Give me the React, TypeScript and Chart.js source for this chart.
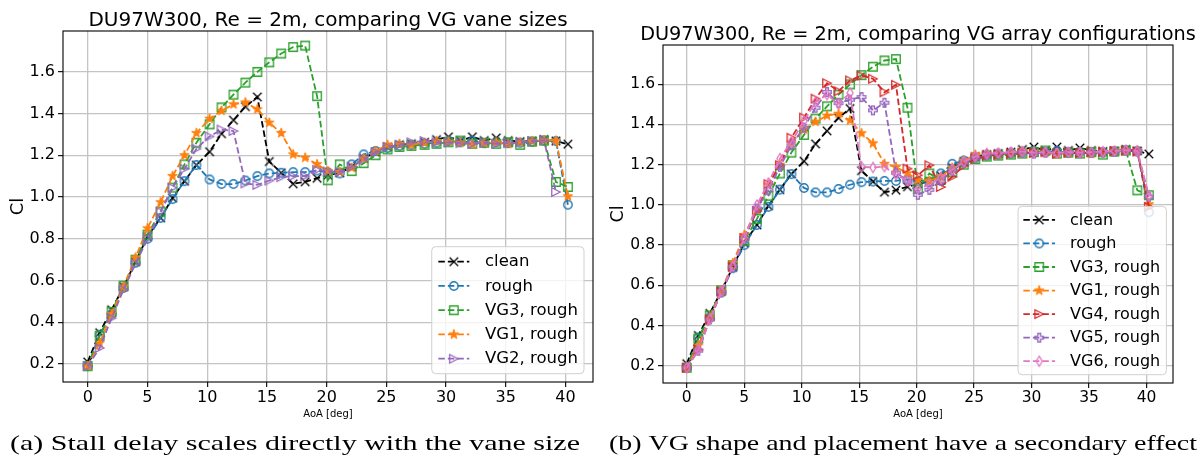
import React, { useEffect, useRef } from "react";
import { Chart, registerables } from "chart.js";

Chart.register(...registerables);

// ---------------- data ----------------
const AOA = [
  0, 1, 2, 3, 4, 5, 6.1, 7.1, 8.1, 9.1, 10.2, 11.2, 12.2, 13.2, 14.2, 15.2, 16.2, 17.2, 18.2, 19.2,
  20.1, 21.1, 22.1, 23.1, 24.1, 25.1, 26.1, 27.1, 28.2, 29.2, 30.2, 31.2, 32.2, 33.2, 34.2, 35.2,
  36.2, 37.2, 38.2, 39.2, 40.2,
];

const CLEAN = [
  0.21, 0.35, 0.46, 0.57, 0.69, 0.81, 0.9, 0.995, 1.076, 1.153, 1.217, 1.303, 1.368, 1.433, 1.479,
  1.17, 1.116, 1.063, 1.073, 1.09, 1.105, 1.115, 1.145, 1.185, 1.215, 1.24, 1.25, 1.255, 1.262,
  1.275, 1.288, 1.27, 1.288, 1.27, 1.283, 1.27, 1.265, 1.268, 1.275, 1.268, 1.253,
];

const ROUGH = [
  0.19, 0.34, 0.44, 0.565, 0.685, 0.8, 0.9, 0.99, 1.076, 1.153, 1.084, 1.062, 1.062, 1.079, 1.1,
  1.113, 1.116, 1.119, 1.119, 1.127, 1.118, 1.113, 1.156, 1.204, 1.22, 1.235, 1.245, 1.25, 1.255,
  1.26, 1.268, 1.262, 1.268, 1.258, 1.262, 1.258, 1.26, 1.265, 1.27, 1.268, 0.963,
];

const VG3_ROUGH = [
  0.19, 0.335, 0.45, 0.575, 0.7, 0.82, 0.93, 1.045, 1.156, 1.26, 1.348, 1.429, 1.49, 1.548, 1.599,
  1.645, 1.687, 1.718, 1.725, 1.483, 1.08, 1.156, 1.124, 1.162, 1.2, 1.228, 1.24, 1.245, 1.25,
  1.255, 1.262, 1.27, 1.255, 1.26, 1.255, 1.262, 1.25, 1.265, 1.27, 1.072, 1.048,
];

const VG1_ROUGH = [
  0.19, 0.3, 0.44, 0.57, 0.71, 0.85, 0.975, 1.1, 1.2, 1.306, 1.375, 1.413, 1.444, 1.453, 1.42,
  1.356, 1.306, 1.204, 1.188, 1.157, 1.124, 1.12, 1.14, 1.185, 1.22, 1.25, 1.255, 1.25, 1.26,
  1.268, 1.265, 1.26, 1.252, 1.258, 1.262, 1.255, 1.262, 1.268, 1.272, 1.27, 1.003,
];

const VG2_ROUGH = [
  0.19, 0.277, 0.42, 0.556, 0.68, 0.8, 0.93, 1.044, 1.135, 1.231, 1.29, 1.323, 1.316, 1.065, 1.058,
  1.079, 1.095, 1.1, 1.1, 1.13, 1.122, 1.12, 1.145, 1.18, 1.215, 1.24, 1.25, 1.262, 1.268, 1.262,
  1.262, 1.258, 1.255, 1.26, 1.255, 1.258, 1.262, 1.268, 1.272, 1.024, null,
];

const VG4_ROUGH = [
  0.19, 0.28, 0.43, 0.569, 0.693, 0.833, 0.97, 1.103, 1.197, 1.334, 1.434, 1.528, 1.605, 1.565,
  1.619, 1.643, 1.627, 1.56, 1.597, 1.18, 1.147, 1.197, 1.089, 1.14, 1.195, 1.23, 1.245, 1.25,
  1.255, 1.26, 1.258, 1.262, 1.255, 1.26, 1.258, 1.262, 1.265, 1.268, 1.27, 1.265, 0.99,
];

const VG5_ROUGH = [
  0.19, 0.275, 0.43, 0.565, 0.69, 0.83, 0.982, 1.073, 1.189, 1.296, 1.384, 1.483, 1.561, 1.506,
  1.523, 1.536, 1.47, 1.508, 1.16, 1.12, 1.05, 1.075, 1.12, 1.17, 1.21, 1.235, 1.25, 1.255, 1.26,
  1.262, 1.255, 1.26, 1.258, 1.262, 1.258, 1.26, 1.262, 1.265, 1.27, 1.265, 1.04,
];

const VG6_ROUGH = [
  0.19, 0.28, 0.43, 0.57, 0.695, 0.835, 0.999, 1.109, 1.23, 1.313, 1.417, 1.511, 1.548, 1.503,
  1.556, 1.189, 1.186, 1.19, 1.15, 1.12, 1.08, 1.1, 1.135, 1.175, 1.215, 1.24, 1.255, 1.258, 1.262,
  1.265, 1.26, 1.262, 1.258, 1.262, 1.26, 1.262, 1.265, 1.268, 1.272, 1.268, 1.045,
];

const X_TICKS = [0, 5, 10, 15, 20, 25, 30, 35, 40];
const Y_TICKS = [0.2, 0.4, 0.6, 0.8, 1.0, 1.2, 1.4, 1.6];
const X_MIN = -2.07;
const X_MAX = 42.3;
const Y_MIN = 0.114;
const Y_MAX = 1.795;

const TITLE_A = "DU97W300, Re = 2m, comparing VG vane sizes";
const TITLE_B = "DU97W300, Re = 2m, comparing VG array configurations";
const CAPTION_A = "(a) Stall delay scales directly with the vane size";
const CAPTION_B = "(b) VG shape and placement have a secondary effect";
const X_LABEL = "AoA [deg]";
const Y_LABEL = "Cl";

// ---------------- styles ----------------
type MarkerKind = "x" | "o" | "s" | "*" | ">" | "P" | "d";

interface Series {
  label: string;
  values: (number | null)[];
  color: string;
  marker: MarkerKind;
}

const S_CLEAN: Series = { label: "clean", values: CLEAN, color: "#000000", marker: "x" };
const S_ROUGH: Series = { label: "rough", values: ROUGH, color: "#1f77b4", marker: "o" };
const S_VG3: Series = { label: "VG3, rough", values: VG3_ROUGH, color: "#2ca02c", marker: "s" };
const S_VG1: Series = { label: "VG1, rough", values: VG1_ROUGH, color: "#ff7f0e", marker: "*" };
const S_VG2: Series = { label: "VG2, rough", values: VG2_ROUGH, color: "#9467bd", marker: ">" };
const S_VG4: Series = { label: "VG4, rough", values: VG4_ROUGH, color: "#d62728", marker: ">" };
const S_VG5: Series = { label: "VG5, rough", values: VG5_ROUGH, color: "#9467bd", marker: "P" };
const S_VG6: Series = { label: "VG6, rough", values: VG6_ROUGH, color: "#e377c2", marker: "d" };

const LINE_DASH = [6.5, 3];

const markerCache = new Map<string, HTMLCanvasElement>();
function markerCanvas(kind: MarkerKind, color: string): HTMLCanvasElement {
  const key = kind + color;
  const hit = markerCache.get(key);
  if (hit) return hit;
  const size = 14;
  const c = document.createElement("canvas");
  c.width = size;
  c.height = size;
  const g = c.getContext("2d")!;
  g.translate(size / 2, size / 2);
  g.strokeStyle = color;
  g.fillStyle = color;
  g.lineWidth = 1.3;
  const h = 4.25;
  g.beginPath();
  if (kind === "x") {
    g.moveTo(-h, -h);
    g.lineTo(h, h);
    g.moveTo(-h, h);
    g.lineTo(h, -h);
    g.stroke();
  } else if (kind === "o") {
    g.arc(0, 0, h, 0, Math.PI * 2);
    g.stroke();
  } else if (kind === "s") {
    g.rect(-h, -h, 2 * h, 2 * h);
    g.stroke();
  } else if (kind === "*") {
    const R = h * 1.2;
    for (let i = 0; i < 10; i++) {
      const r = i % 2 === 0 ? R : R * 0.381;
      const a = -Math.PI / 2 + (i * Math.PI) / 5;
      const px = r * Math.cos(a);
      const py = r * Math.sin(a);
      if (i === 0) g.moveTo(px, py);
      else g.lineTo(px, py);
    }
    g.closePath();
    g.fill();
    g.lineWidth = 1;
    g.stroke();
  } else if (kind === ">") {
    g.moveTo(h, 0);
    g.lineTo(-h, -h);
    g.lineTo(-h, h);
    g.closePath();
    g.stroke();
  } else if (kind === "P") {
    const a = h;
    const b = h / 3;
    const pts = [
      [-b, -a], [b, -a], [b, -b], [a, -b], [a, b], [b, b],
      [b, a], [-b, a], [-b, b], [-a, b], [-a, -b], [-b, -b],
    ];
    pts.forEach(([px, py], i) => (i === 0 ? g.moveTo(px, py) : g.lineTo(px, py)));
    g.closePath();
    g.stroke();
  } else if (kind === "d") {
    g.moveTo(0, -h * 1.2);
    g.lineTo(h * 0.72, 0);
    g.lineTo(0, h * 1.2);
    g.lineTo(-h * 0.72, 0);
    g.closePath();
    g.stroke();
  }
  markerCache.set(key, c);
  return c;
}

interface LegendGeom {
  fontSize: number;
  rowH: number;
  padV: number;
  handleX: number;
  handleLen: number;
  textX: number;
  padRight: number;
  marginRight: number;
  marginBottom: number;
}

interface PanelDef {
  left: number;
  width: number;
  padRight: number;
  padTop: number;
  yAxisW: number;
  xAxisH: number;
  tickFont: number;
  titleFont: number;
  ylabelFont: number;
  xlabelFont: number;
  title: string;
  caption: string;
  captionX0: number;
  captionX1: number;
  series: Series[];
  legend: LegendGeom;
}

const HEIGHT = 474;

const PANEL_A: PanelDef = {
  left: 0,
  width: 600,
  padRight: 7,
  padTop: 31,
  yAxisW: 63,
  xAxisH: 92,
  tickFont: 16,
  titleFont: 20,
  ylabelFont: 18,
  xlabelFont: 10,
  title: TITLE_A,
  caption: CAPTION_A,
  captionX0: 10,
  captionX1: 580,
  series: [S_CLEAN, S_ROUGH, S_VG3, S_VG1, S_VG2],
  legend: {
    fontSize: 16.5,
    rowH: 24.25,
    padV: 15,
    handleX: 6.6,
    handleLen: 31,
    textX: 53.3,
    padRight: 6,
    marginRight: 9,
    marginBottom: 8.3,
  },
};

const PANEL_B: PanelDef = {
  left: 600,
  width: 604,
  padRight: 31,
  padTop: 45,
  yAxisW: 63,
  xAxisH: 91,
  tickFont: 15.5,
  titleFont: 19.3,
  ylabelFont: 17.5,
  xlabelFont: 10,
  title: TITLE_B,
  caption: CAPTION_B,
  captionX0: 9,
  captionX1: 597,
  series: [S_CLEAN, S_ROUGH, S_VG3, S_VG1, S_VG4, S_VG5, S_VG6],
  legend: {
    fontSize: 16,
    rowH: 23.55,
    padV: 13.5,
    handleX: 5.3,
    handleLen: 31.7,
    textX: 52,
    padRight: 6.2,
    marginRight: 6.6,
    marginBottom: 8.3,
  },
};

const FONT = "'DejaVu Sans', sans-serif";

function drawLegend(chart: any, p: PanelDef) {
  const ctx: CanvasRenderingContext2D = chart.ctx;
  const L = p.legend;
  const ca = chart.chartArea;
  const n = p.series.length;
  ctx.save();
  ctx.font = `${L.fontSize}px ${FONT}`;
  const maxW = Math.max(...p.series.map((s) => ctx.measureText(s.label).width));
  const w = L.textX + maxW + L.padRight;
  const h = L.padV * 2 + (n - 1) * L.rowH;
  const x0 = ca.right - L.marginRight - w;
  const y0 = ca.bottom - L.marginBottom - h;
  ctx.beginPath();
  (ctx as any).roundRect(x0, y0, w, h, 4);
  ctx.fillStyle = "rgba(255,255,255,0.8)";
  ctx.fill();
  ctx.strokeStyle = "#d0d0d0";
  ctx.lineWidth = 1;
  ctx.stroke();
  p.series.forEach((s, i) => {
    const cy = y0 + L.padV + i * L.rowH;
    ctx.beginPath();
    ctx.setLineDash(LINE_DASH);
    ctx.strokeStyle = s.color;
    ctx.lineWidth = 1.8;
    ctx.moveTo(x0 + L.handleX, cy);
    ctx.lineTo(x0 + L.handleX + L.handleLen, cy);
    ctx.stroke();
    ctx.setLineDash([]);
    const m = markerCanvas(s.marker, s.color);
    ctx.drawImage(m, x0 + L.handleX + L.handleLen / 2 - m.width / 2, cy - m.height / 2);
    ctx.fillStyle = "#000";
    ctx.textAlign = "left";
    ctx.textBaseline = "middle";
    ctx.fillText(s.label, x0 + L.textX, cy + 0.5);
  });
  ctx.restore();
}

function makeDecor(p: PanelDef) {
  return {
    id: "decor",
    beforeDraw(chart: any) {
      const ctx = chart.ctx;
      ctx.save();
      ctx.fillStyle = "#ffffff";
      ctx.fillRect(0, 0, chart.width, chart.height);
      ctx.restore();
    },
    afterDatasetsDraw(chart: any) {
      const ctx: CanvasRenderingContext2D = chart.ctx;
      const ca = chart.chartArea;
      ctx.save();
      ctx.strokeStyle = "#000";
      ctx.lineWidth = 1.1;
      ctx.strokeRect(ca.left, ca.top, ca.right - ca.left, ca.bottom - ca.top);
      ctx.restore();
      drawLegend(chart, p);
    },
    afterDraw(chart: any) {
      const ctx: CanvasRenderingContext2D = chart.ctx;
      const ca = chart.chartArea;
      const cx = (ca.left + ca.right) / 2;
      const cy = (ca.top + ca.bottom) / 2;
      ctx.save();
      ctx.fillStyle = "#000";
      // title
      ctx.font = `${p.titleFont}px ${FONT}`;
      ctx.textAlign = "center";
      ctx.textBaseline = "alphabetic";
      ctx.fillText(p.title, cx, ca.top - 5);
      // y label
      ctx.save();
      ctx.translate(ca.left - 45, cy);
      ctx.rotate(-Math.PI / 2);
      ctx.font = `${p.ylabelFont}px ${FONT}`;
      ctx.textAlign = "center";
      ctx.textBaseline = "middle";
      ctx.fillText(Y_LABEL, 0, 0);
      ctx.restore();
      // x label
      ctx.font = `${p.xlabelFont}px ${FONT}`;
      ctx.textAlign = "center";
      ctx.textBaseline = "alphabetic";
      ctx.fillText(X_LABEL, cx, 417);
      // caption
      ctx.font = `22px 'Liberation Serif', 'DejaVu Serif', serif`;
      const tw = ctx.measureText(p.caption).width;
      const sx = (p.captionX1 - p.captionX0) / tw;
      ctx.translate(p.captionX0, 450);
      ctx.scale(sx, 1);
      ctx.textAlign = "left";
      ctx.fillText(p.caption, 0, 0);
      ctx.restore();
    },
  };
}

function buildConfig(p: PanelDef): any {
  const n = p.series.length;
  const datasets = p.series.map((s, i) => ({
    label: s.label,
    data: AOA.map((x, j) => ({ x, y: s.values[j] })).filter((pt) => pt.y !== null && pt.y !== undefined),
    borderColor: s.color,
    backgroundColor: s.color,
    borderWidth: 1.8,
    borderDash: LINE_DASH,
    pointStyle: markerCanvas(s.marker, s.color),
    pointRadius: 4,
    pointHoverRadius: 4,
    fill: false,
    tension: 0,
    order: n - i,
  }));
  const tickCommon = {
    color: "#000",
    font: { family: "'DejaVu Sans', sans-serif", size: p.tickFont },
    autoSkip: false,
    maxRotation: 0,
    minRotation: 0,
  };
  const gridCommon = {
    color: "#c4c4c4",
    lineWidth: 1.3,
    tickColor: "#000",
    tickLength: 5,
    tickWidth: 1.1,
    drawTicks: true,
  };
  return {
    type: "line",
    data: { datasets },
    options: {
      responsive: false,
      maintainAspectRatio: false,
      animation: false,
      devicePixelRatio: 1,
      events: [],
      layout: { padding: { left: 0, right: p.padRight, top: p.padTop, bottom: 0 } },
      plugins: {
        legend: { display: false },
        tooltip: { enabled: false },
        title: { display: false },
      },
      scales: {
        x: {
          type: "linear",
          min: X_MIN,
          max: X_MAX,
          afterBuildTicks: (sc: any) => {
            sc.ticks = X_TICKS.map((v) => ({ value: v }));
          },
          afterFit: (sc: any) => {
            sc.height = p.xAxisH;
          },
          ticks: { ...tickCommon, padding: 1, callback: (v: any) => String(v) },
          grid: gridCommon,
          border: { display: false },
        },
        y: {
          type: "linear",
          min: Y_MIN,
          max: Y_MAX,
          afterBuildTicks: (sc: any) => {
            sc.ticks = Y_TICKS.map((v) => ({ value: v }));
          },
          afterFit: (sc: any) => {
            sc.width = p.yAxisW;
          },
          ticks: { ...tickCommon, padding: 3, callback: (v: any) => Number(v).toFixed(1) },
          grid: gridCommon,
          border: { display: false },
        },
      },
    },
    plugins: [makeDecor(p)],
  };
}

function Panel({ def }: { def: PanelDef }) {
  const ref = useRef<HTMLCanvasElement>(null);
  useEffect(() => {
    const chart = new Chart(ref.current!, buildConfig(def));
    return () => chart.destroy();
  }, [def]);
  return (
    <canvas
      ref={ref}
      width={def.width}
      height={HEIGHT}
      style={{ position: "absolute", left: def.left, top: 0, width: def.width, height: HEIGHT }}
    />
  );
}

export default function App() {
  return (
    <div
      style={{
        position: "absolute",
        left: 0,
        top: 0,
        width: 1204,
        height: HEIGHT,
        background: "#ffffff",
        overflow: "hidden",
      }}
    >
      <Panel def={PANEL_A} />
      <Panel def={PANEL_B} />
    </div>
  );
}
